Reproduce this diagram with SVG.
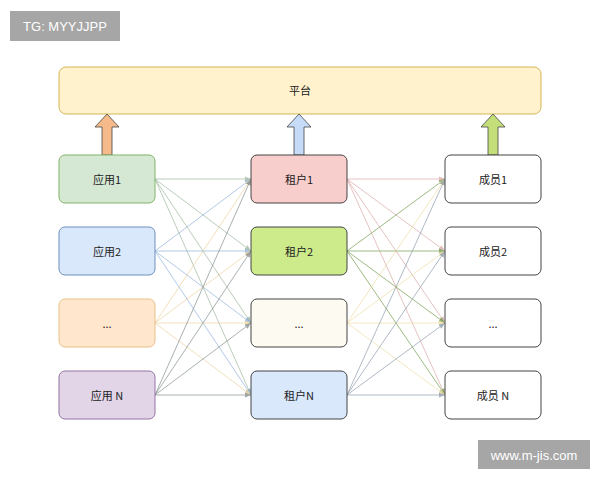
<svg xmlns="http://www.w3.org/2000/svg" width="600" height="480" viewBox="0 0 600 480">
<defs>
<style>
text{font-family:"Noto Sans CJK SC","Liberation Sans",sans-serif;font-size:11px;fill:#222;text-anchor:middle;dominant-baseline:central}
.n rect{stroke-width:1}
.c line{stroke-width:0.9;opacity:0.75}
</style>
<marker id="a" viewBox="0 0 10 10" refX="10" refY="5" markerWidth="7" markerHeight="7" orient="auto"><path d="M0,1 L10,5 L0,9 z" fill="context-stroke"/></marker>
</defs>
<rect width="600" height="480" fill="#fff"/>
<rect x="10" y="11" width="110" height="30" fill="#a6a6a6"/>
<text x="65" y="26" style="fill:#fff;font-family:'Liberation Sans',sans-serif;font-size:13px">TG: MYYJJPP</text>
<rect x="478" y="440" width="112" height="29" fill="#a6a6a6"/>
<text x="534" y="455" style="fill:#fff;font-family:'Liberation Sans',sans-serif;font-size:13px">www.m-jis.com</text>
<g id="platform" class="n"><rect x="59" y="67" width="482" height="47" rx="7" fill="#fff2cc" stroke="#d6b656"/><text x="300" y="90">平台</text></g>
<g id="up-arrows" stroke="#444" stroke-width="0.8">
<path d="M102,155 V127 H95 L107,114 L119,127 H112 V155 Z" fill="#f5b98a"/>
<path d="M294,155 V127 H287 L299,114 L311,127 H304 V155 Z" fill="#c6dbf7"/>
<path d="M488,155 V127 H481 L493,114 L505,127 H498 V155 Z" fill="#c4df7a"/>
</g>
<g class="c" id="connectors">
<g stroke="#9bb59a" marker-end="url(#a)"><line x1="155" y1="179" x2="251" y2="179"/><line x1="155" y1="179" x2="251" y2="251"/><line x1="155" y1="179" x2="251" y2="323"/><line x1="155" y1="179" x2="251" y2="395"/></g>
<g stroke="#8fb1dd" marker-end="url(#a)"><line x1="155" y1="251" x2="251" y2="179"/><line x1="155" y1="251" x2="251" y2="251"/><line x1="155" y1="251" x2="251" y2="323"/><line x1="155" y1="251" x2="251" y2="395"/></g>
<g stroke="#ecd09a" marker-end="url(#a)"><line x1="155" y1="323" x2="251" y2="179"/><line x1="155" y1="323" x2="251" y2="251"/><line x1="155" y1="323" x2="251" y2="323"/><line x1="155" y1="323" x2="251" y2="395"/></g>
<g stroke="#7f8a8a" marker-end="url(#a)"><line x1="155" y1="395" x2="251" y2="179"/><line x1="155" y1="395" x2="251" y2="251"/><line x1="155" y1="395" x2="251" y2="323"/><line x1="155" y1="395" x2="251" y2="395"/></g>
<g stroke="#d9a6a4" marker-end="url(#a)"><line x1="347" y1="179" x2="445" y2="179"/><line x1="347" y1="179" x2="445" y2="251"/><line x1="347" y1="179" x2="445" y2="323"/><line x1="347" y1="179" x2="445" y2="395"/></g>
<g stroke="#6f9a4a" marker-end="url(#a)"><line x1="347" y1="251" x2="445" y2="179"/><line x1="347" y1="251" x2="445" y2="251"/><line x1="347" y1="251" x2="445" y2="323"/><line x1="347" y1="251" x2="445" y2="395"/></g>
<g stroke="#ecdca0" marker-end="url(#a)"><line x1="347" y1="323" x2="445" y2="179"/><line x1="347" y1="323" x2="445" y2="251"/><line x1="347" y1="323" x2="445" y2="323"/><line x1="347" y1="323" x2="445" y2="395"/></g>
<g stroke="#8a99ab" marker-end="url(#a)"><line x1="347" y1="395" x2="445" y2="179"/><line x1="347" y1="395" x2="445" y2="251"/><line x1="347" y1="395" x2="445" y2="323"/><line x1="347" y1="395" x2="445" y2="395"/></g>
</g>
<g id="app1" class="n"><rect x="59" y="155" width="96" height="48" rx="6" fill="#d5e8d4" stroke="#82b366"/><text x="107" y="179">应用1</text></g>
<g id="app2" class="n"><rect x="59" y="227" width="96" height="48" rx="6" fill="#dae8fc" stroke="#6c8ebf"/><text x="107" y="251">应用2</text></g>
<g id="app3" class="n"><rect x="59" y="299" width="96" height="48" rx="6" fill="#ffe6cc" stroke="#e8c08a"/><text x="107" y="323">...</text></g>
<g id="appN" class="n"><rect x="59" y="371" width="96" height="48" rx="6" fill="#e1d5e7" stroke="#9673a6"/><text x="107" y="395">应用 N</text></g>
<g id="t1" class="n"><rect x="251" y="155" width="96" height="48" rx="6" fill="#f8cecc" stroke="#444"/><text x="299" y="179">租户1</text></g>
<g id="t2" class="n"><rect x="251" y="227" width="96" height="48" rx="6" fill="#cdeb8b" stroke="#444"/><text x="299" y="251">租户2</text></g>
<g id="t3" class="n"><rect x="251" y="299" width="96" height="48" rx="6" fill="#fdfaf2" stroke="#444"/><text x="299" y="323">...</text></g>
<g id="tN" class="n"><rect x="251" y="371" width="96" height="48" rx="6" fill="#dae8fc" stroke="#444"/><text x="299" y="395">租户N</text></g>
<g id="m1" class="n"><rect x="445" y="155" width="96" height="48" rx="6" fill="#fff" stroke="#444"/><text x="493" y="179">成员1</text></g>
<g id="m2" class="n"><rect x="445" y="227" width="96" height="48" rx="6" fill="#fff" stroke="#444"/><text x="493" y="251">成员2</text></g>
<g id="m3" class="n"><rect x="445" y="299" width="96" height="48" rx="6" fill="#fff" stroke="#444"/><text x="493" y="323">...</text></g>
<g id="mN" class="n"><rect x="445" y="371" width="96" height="48" rx="6" fill="#fff" stroke="#444"/><text x="493" y="395">成员 N</text></g>
</svg>
